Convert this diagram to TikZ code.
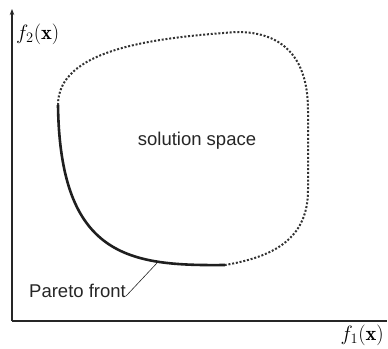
\documentclass[tikz,border=0pt]{standalone}
\usepackage{fontspec}
\setsansfont{Liberation Sans}
\usetikzlibrary{arrows.meta}
\begin{document}
\begin{tikzpicture}[x=1pt,y=-1pt,
  axis/.style={line width=1.1pt,black!85},
  front/.style={line width=2.6pt,black!88},
  space/.style={line width=2pt,black!80,dash pattern=on 2pt off 1.8pt},
  lbl/.style={font=\sffamily\fontsize{18.5}{20}\selectfont,text=black!85,inner sep=0pt},
  mlbl/.style={font=\fontsize{20.5}{22}\selectfont,inner sep=0pt}]
\useasboundingbox (0,0) rectangle (388,348);
\coordinate (org) at (12,321);
\coordinate (ytop) at (12,9);
\coordinate (xend) at (387,321);
\draw[axis,-{Stealth[length=6pt,width=4.5pt]}] (org) -- (ytop);
\draw[axis] (org) -- (xend);
\node[mlbl,anchor=west] (fy) at (16,34) {$f_2(\mathbf{x})$};
\node[mlbl,anchor=east] (fx) at (384,335) {$f_1(\mathbf{x})$};
\coordinate (a) at (225,265);
\coordinate (b) at (58,105);
\coordinate (t) at (237,32);
\coordinate (r1) at (308,110);
\coordinate (r2) at (308,190);
\draw[front] (a) .. controls (130,266) and (60,258) .. (b);
\draw[space] (b) .. controls (58,50) and (150,38) .. (t)
  .. controls (285,32) and (308,60) .. (r1) -- (r2)
  .. controls (308,240) and (272,257) .. (a);
\node[lbl] (ss) at (197,141) {solution space};
\node[lbl,anchor=base west] (pf) at (29,297) {Pareto front};
\coordinate (pfpt) at (157,263);
\draw[line width=0.6pt,black!85] (pf.base east) ++(0,-1) -- (pfpt);
\end{tikzpicture}
\end{document}
